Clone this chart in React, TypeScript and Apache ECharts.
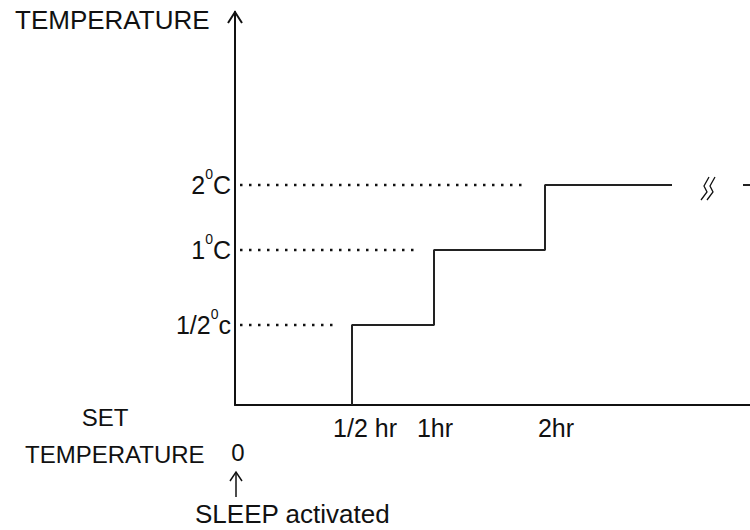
import React, { useEffect, useRef } from "react";
import * as echarts from "echarts";

// Schematic diagram: axis units are arbitrary (drawing is not to scale)
const levelMain = ["1/2", "1", "2"];
const levelUnit = ["c", "C", "C"];
const levelPos = [80, 155, 220];
const timeLabels = ["1/2 hr", "1hr", "2hr"];
const stepPos = [117, 199, 310];
const timeLabelPos = [130, 200, 321];
const guideStart = 5;
const guideEnd = [100, 183, 287];
const stepEnd = 437;
const tailStart = 508;
const X_MAX = 515;
const Y_MAX = 393;

const FONT = '"Liberation Sans", Arial, Helvetica, sans-serif';
const INK = "#111";

export default function App() {
  const ref = useRef<HTMLDivElement>(null);
  useEffect(() => {
    if (!ref.current) return;
    const chart = echarts.init(ref.current, null, { renderer: "svg" });

    const stepData = [[stepPos[0], 0]];
    for (let i = 1; i < stepPos.length; i++) stepData.push([stepPos[i], levelPos[i - 1]]);
    stepData.push([stepEnd, levelPos[levelPos.length - 1]]);

    const guideSeries = levelPos.map((lv, i) => ({
      type: "line",
      data: [
        [guideStart, lv],
        [guideEnd[i], lv],
      ],
      symbol: "none",
      silent: true,
      lineStyle: { color: INK, width: 2.5, type: [2.5, 6.5] },
    }));

    const textStyle = (size: number) => ({ fontSize: size, fontFamily: FONT, fill: INK });

    chart.setOption({
      animation: false,
      grid: { left: 235, right: 0, top: 12, bottom: 125, containLabel: false },
      xAxis: {
        type: "value",
        min: 0,
        max: X_MAX,
        splitLine: { show: false },
        axisTick: { show: false },
        axisLine: { show: true, onZero: false, lineStyle: { color: INK, width: 2 } },
        axisLabel: {
          customValues: timeLabelPos,
          formatter: (v: number) => timeLabels[timeLabelPos.indexOf(v)] ?? "",
          fontSize: 25,
          fontFamily: FONT,
          color: INK,
          margin: 10,
        },
      },
      yAxis: {
        type: "value",
        min: 0,
        max: Y_MAX,
        splitLine: { show: false },
        axisTick: { show: false },
        axisLine: { show: true, onZero: false, lineStyle: { color: INK, width: 2 } },
        axisLabel: {
          customValues: levelPos,
          formatter: (v: number) => {
            const i = levelPos.indexOf(v);
            if (i < 0) return "";
            return `{a|${levelMain[i]}}{s|0}{a|${levelUnit[i]}}`;
          },
          margin: 4,
          rich: {
            a: { fontSize: 25, fontFamily: FONT, color: INK, lineHeight: 36 },
            s: { fontSize: 14, fontFamily: FONT, color: INK, lineHeight: 14, verticalAlign: "top" },
          },
        },
      },
      series: [
        {
          type: "line",
          data: stepData,
          step: "start",
          symbol: "none",
          silent: true,
          lineStyle: { color: "#222", width: 2 },
        },
        {
          type: "line",
          data: [
            [tailStart, levelPos[levelPos.length - 1]],
            [X_MAX, levelPos[levelPos.length - 1]],
          ],
          symbol: "none",
          silent: true,
          lineStyle: { color: "#222", width: 2 },
        },
        ...guideSeries,
      ],
      graphic: [
        { type: "text", left: 15, top: 7, style: { text: "TEMPERATURE", ...textStyle(26) } },
        {
          type: "polyline",
          shape: { points: [[228, 23], [235, 12], [242, 23]] },
          style: { stroke: INK, lineWidth: 2, fill: "none" },
        },
        {
          type: "polyline",
          shape: { points: [[709, 177], [704, 186], [707, 192], [701, 200]] },
          style: { stroke: INK, lineWidth: 1.3, fill: "none" },
        },
        {
          type: "polyline",
          shape: { points: [[715, 177], [710, 186], [713, 192], [707, 200]] },
          style: { stroke: INK, lineWidth: 1.3, fill: "none" },
        },
        { type: "text", x: 105, y: 417, style: { text: "SET", align: "center", verticalAlign: "middle", ...textStyle(24) } },
        { type: "text", x: 25, y: 454, style: { text: "TEMPERATURE", align: "left", verticalAlign: "middle", ...textStyle(24) } },
        { type: "text", x: 238, y: 452, style: { text: "0", align: "center", verticalAlign: "middle", ...textStyle(24) } },
        {
          type: "line",
          shape: { x1: 236, y1: 473, x2: 236, y2: 497 },
          style: { stroke: INK, lineWidth: 1.5 },
        },
        {
          type: "polyline",
          shape: { points: [[230, 481], [236, 472], [242, 481]] },
          style: { stroke: INK, lineWidth: 1.5, fill: "none" },
        },
        { type: "text", x: 195, y: 514, style: { text: "SLEEP activated", align: "left", verticalAlign: "middle", ...textStyle(26) } },
      ],
    });
    return () => chart.dispose();
  }, []);
  return <div ref={ref} style={{ position: "absolute", left: 0, top: 0, width: 750, height: 530, background: "#fff" }} />;
}
